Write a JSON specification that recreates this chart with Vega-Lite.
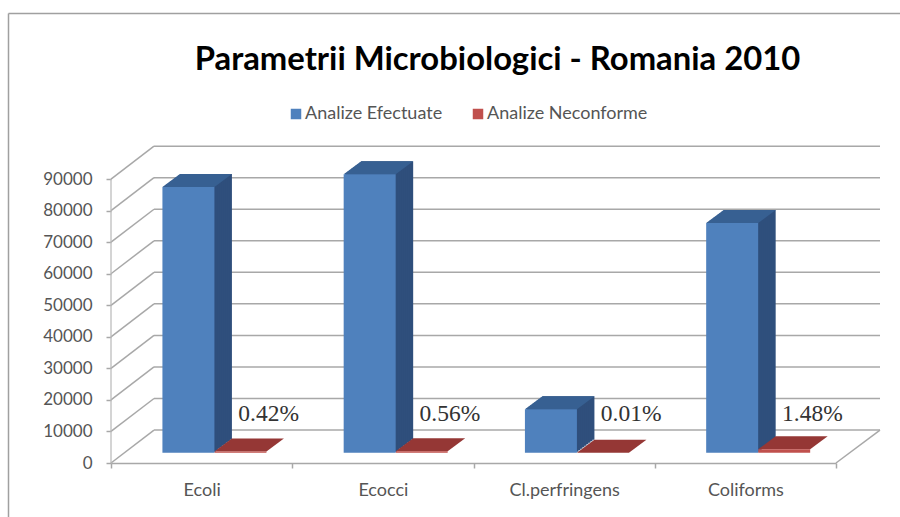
{"$schema":"https://vega.github.io/schema/vega-lite/v6.json","width":769,"height":317,"autosize":"none","padding":{"left":111,"top":146,"right":20,"bottom":54},"background":"white","title":{"text":"Parametrii Microbiologici - Romania 2010","font":"Lato","fontWeight":"bold","fontSize":32.8,"limit":800,"color":"#000000","anchor":"middle","frame":"group","dx":2,"dy":90,"baseline":"alphabetic","offset":0},"config":{"view":{"stroke":null}},"datasets":{"efectuate":[{"category":"Ecoli","series":"Analize Efectuate","value":84200},{"category":"Ecocci","series":"Analize Efectuate","value":88300},{"category":"Cl.perfringens","series":"Analize Efectuate","value":13800},{"category":"Coliforms","series":"Analize Efectuate","value":72800}],"neconforme":[{"category":"Ecoli","series":"Analize Neconforme","value":355,"label":"0.42%"},{"category":"Ecocci","series":"Analize Neconforme","value":495,"label":"0.56%"},{"category":"Cl.perfringens","series":"Analize Neconforme","value":1.4,"label":"0.01%"},{"category":"Coliforms","series":"Analize Neconforme","value":1077,"label":"1.48%"}],"grid":[{"tick":0,"back":10450},{"tick":10000,"back":20450},{"tick":20000,"back":30450},{"tick":30000,"back":40450},{"tick":40000,"back":50450},{"tick":50000,"back":60450},{"tick":60000,"back":70450},{"tick":70000,"back":80450},{"tick":80000,"back":90450},{"tick":90000,"back":100450}],"floor":[{"tick":0,"back":10450}],"axisLine":[{"tick":0,"back":90000}]},"encoding":{"x":{"field":"category","type":"nominal","sort":null,"title":null,"scale":{"range":[0,725],"paddingInner":0,"paddingOuter":0},"axis":{"tickBand":"extent","labelAngle":0,"labelFont":"Lato","labelFontSize":18,"labelColor":"#555555","labelPadding":13,"domainColor":"#a8a8a8","domainWidth":1.5,"tickColor":"#a8a8a8","tickWidth":1.5,"tickSize":5,"grid":false}},"y":{"field":"value","type":"quantitative","stack":null,"title":null,"scale":{"domain":[0,100500],"nice":false},"axis":{"values":[0,10000,20000,30000,40000,50000,60000,70000,80000,90000],"format":"d","domain":false,"grid":false,"labelFont":"Lato","labelFontSize":17,"labelColor":"#555555","labelPadding":14,"tickColor":"#a8a8a8","tickWidth":1.5,"tickSize":5}}},"layer":[{"data":{"name":"floor"},"mark":{"type":"rule","color":"#a0a0a0","strokeWidth":1.5},"encoding":{"x":{"value":-102.5},"x2":{"value":790},"y":{"value":-132.5}}},{"data":{"name":"floor"},"mark":{"type":"rule","color":"#a0a0a0","strokeWidth":1.5},"encoding":{"x":{"value":-102.5},"y":{"value":-132.5},"y2":{"value":371}}},{"data":{"name":"grid"},"mark":{"type":"rule","color":"#a8a8a8","strokeWidth":1.5},"encoding":{"x":{"value":43},"x2":{"value":769},"y":{"field":"back","type":"quantitative","title":null}}},{"data":{"name":"grid"},"mark":{"type":"rule","color":"#a8a8a8","strokeWidth":1.5},"encoding":{"x":{"value":0},"x2":{"value":43},"y":{"field":"tick","type":"quantitative","title":null},"y2":{"field":"back"}}},{"data":{"name":"floor"},"mark":{"type":"rule","color":"#a8a8a8","strokeWidth":1.5},"encoding":{"x":{"value":725},"x2":{"value":769},"y":{"field":"tick","type":"quantitative","title":null},"y2":{"field":"back"}}},{"data":{"name":"axisLine"},"mark":{"type":"rule","color":"#b8b8b8","strokeWidth":1.2},"encoding":{"x":{"value":0},"y":{"field":"tick","type":"quantitative","title":null},"y2":{"field":"back"}}},{"data":{"name":"efectuate"},"mark":{"type":"bar","width":52,"color":"#2f4f7c","xOffset":4.3,"yOffset":-23.3,"y2Offset":-23.3},"encoding":{"y2":{"datum":0}}},{"data":{"name":"efectuate"},"mark":{"type":"bar","width":52,"color":"#2f4f7c","xOffset":2.3,"yOffset":-21.8,"y2Offset":-21.8},"encoding":{"y2":{"datum":0}}},{"data":{"name":"efectuate"},"mark":{"type":"bar","width":52,"color":"#2f4f7c","xOffset":0.3,"yOffset":-20.3,"y2Offset":-20.3},"encoding":{"y2":{"datum":0}}},{"data":{"name":"efectuate"},"mark":{"type":"bar","width":52,"color":"#2f4f7c","xOffset":-1.7,"yOffset":-18.8,"y2Offset":-18.8},"encoding":{"y2":{"datum":0}}},{"data":{"name":"efectuate"},"mark":{"type":"bar","width":52,"color":"#2f4f7c","xOffset":-3.7,"yOffset":-17.3,"y2Offset":-17.3},"encoding":{"y2":{"datum":0}}},{"data":{"name":"efectuate"},"mark":{"type":"bar","width":52,"color":"#2f4f7c","xOffset":-5.7,"yOffset":-15.8,"y2Offset":-15.8},"encoding":{"y2":{"datum":0}}},{"data":{"name":"efectuate"},"mark":{"type":"bar","width":52,"color":"#2f4f7c","xOffset":-7.7,"yOffset":-14.3,"y2Offset":-14.3},"encoding":{"y2":{"datum":0}}},{"data":{"name":"efectuate"},"mark":{"type":"bar","width":52,"color":"#2f4f7c","xOffset":-9.7,"yOffset":-12.8,"y2Offset":-12.8},"encoding":{"y2":{"datum":0}}},{"data":{"name":"efectuate"},"mark":{"type":"bar","width":52,"color":"#2f4f7c","xOffset":-11.7,"yOffset":-11.3,"y2Offset":-11.3},"encoding":{"y2":{"datum":0}}},{"data":{"name":"neconforme"},"mark":{"type":"point","filled":true,"shape":"M-26,0L26,0L43.5,-13L-8.5,-13Z","size":4,"opacity":1,"color":"#953735","strokeWidth":0,"xOffset":38.8,"yOffset":-10.3}},{"data":{"name":"neconforme"},"mark":{"type":"bar","width":52,"xOffset":38.8,"yOffset":-10.3,"y2Offset":-10.3},"encoding":{"y2":{"datum":0},"color":{"field":"series","type":"nominal","scale":{"domain":["Analize Efectuate","Analize Neconforme"],"range":["#4f81bd","#c0504d"]},"legend":{"orient":"none","legendX":176,"legendY":-41,"direction":"horizontal","title":null,"symbolType":"square","symbolSize":110,"symbolStrokeWidth":0,"symbolOpacity":1,"labelFont":"Lato","labelFontSize":18,"labelColor":"#555555","labelOffset":0,"labelLimit":300,"columnPadding":26,"symbolOffset":0}}}},{"data":{"name":"efectuate"},"mark":{"type":"point","filled":true,"shape":"M-26,0L26,0L43.5,-13L-8.5,-13Z","size":4,"opacity":1,"color":"#376092","strokeWidth":0,"xOffset":-13.2,"yOffset":-10.3}},{"data":{"name":"efectuate"},"mark":{"type":"bar","width":52,"xOffset":-13.2,"yOffset":-10.3,"y2Offset":-10.3},"encoding":{"y2":{"datum":0},"color":{"field":"series","type":"nominal"}}},{"data":{"name":"neconforme"},"mark":{"type":"text","font":"Liberation Serif","fontSize":23.5,"color":"#333333","dx":67,"baseline":"middle"},"encoding":{"y":{"datum":15500},"text":{"field":"label"}}}]}
